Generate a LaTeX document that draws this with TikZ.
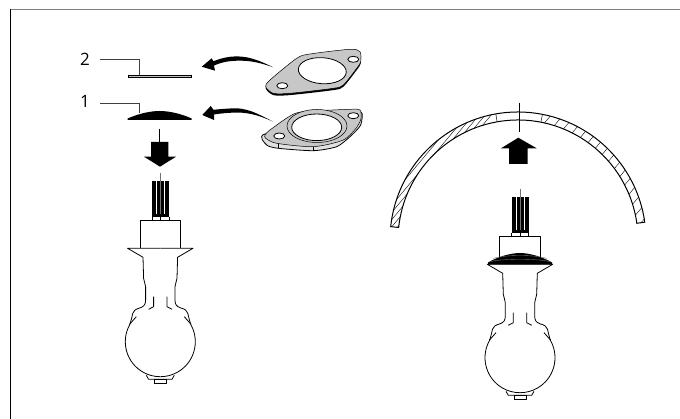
\documentclass[tikz,border=0pt]{standalone}
\usepackage{fontspec}
\setmainfont{Open Sans}
\tikzset{
  frameline/.style = {line width = 1pt},
  leader/.style = {line width = 0.6pt, black!75},
  numlabel/.style = {font = \fontsize{17}{20}\selectfont, inner sep = 0pt},
  outline/.style = {line width = 0.8pt, line join = round},
  gasket/.style = {fill = black!22, line width = 0.5pt},
  dome/.pic = {
    \fill (-32,0) -- (-32,-1.5) .. controls (-22,-6) and (-10,-9) .. (0,-9)
      .. controls (10,-9) and (22,-6) .. (32,-1.5) -- (32,0) -- cycle;
  },
  bulb/.pic = {
    \draw[line width = 0.7pt, black!55] (0,-75) -- (0,-67.6);
    \fill (-8.5,-67.6) rectangle (8.5,-31.6);
    \foreach \gap in {-4,4}
      \draw[white, line width = 0.4pt] (\gap,-67) -- (\gap,-34);
    \draw[black!55, line width = 0.4pt] (0,-67) -- (0,-34);
    \draw[line width = 0.6pt] (-8.5,-31.6) -- (-8.5,-27.6) (0,-31.6) -- (0,-27.6) (8.5,-31.6) -- (8.5,-27.6);
    \draw[outline] (-20.3,0) -- (-20.3,-27.6) -- (20.3,-27.6) -- (20.3,0);
    \foreach \side in {1,-1} {
      \begin{scope}[xscale = \side]
        \draw[outline, fill = white] (0,0) -- (-32.7,0) -- (-17.3,9) -- (-16.7,30)
          .. controls (-16.7,33) and (-14.7,35) .. (-14.7,38.4) -- (-14.7,51.7)
          .. controls (-14.7,56) and (-16,58) .. (-20,59.5)
          .. controls (-25,61) and (-26.5,62) .. (-27.5,65)
          .. controls (-28.5,69) and (-29,72) .. (-30.7,76.6)
          arc[start angle = 208.7, end angle = 90, radius = 35];
        \draw[outline] (-6.7,48.4) -- (-6.7,58.4) -- (-11.7,61);
        \draw[outline] (-24,68.4) -- (-30.7,76);
        \draw[outline] (-14,127) -- (-11.7,131) -- (0,131);
      \end{scope}
    }
    \draw[outline] (-6,131) rectangle (6,135.2);
    \draw[line width = 1.4pt] (-6,135.2) -- (6,135.2);
  }
}
\begin{document}
\begin{tikzpicture}[x = 1pt, y = -1pt]
\useasboundingbox (0,0) rectangle (680,419);
% frame
\draw[frameline, black!50] (10,9.5) -- (680,9.5);
\draw[frameline] (10.5,9.5) -- (10.5,419);

% parts on the left
\node[numlabel] (two) at (85,59.3) {2};
\node[numlabel] (one) at (85,101) {1};
\coordinate (platetop) at (139.3,75);
\coordinate (dometop) at (139.3,113);
\draw[leader] ([xshift = 10pt]two.east) -| (platetop);
\draw[leader] ([xshift = 10pt, yshift = -2.7pt]one.east) -| (dometop);
\draw[line width = 0.8pt, fill = black!25] (128.3,75) rectangle (191,77.7);
\pic at (159.7,120) {dome};

% gasket 2
\fill[yshift = -1.8pt] plot[smooth cycle, tension = 0.45] coordinates {(265.7,86.7) (270,80) (296.7,58.3) (310,54) (350,49.3) (360,51.7) (360.7,61.7) (356.7,68.3) (343.3,85) (333.3,88.3) (290,93.3) (273.3,93.3)};
\draw[gasket] plot[smooth cycle, tension = 0.45] coordinates {(265.7,86.7) (270,80) (296.7,58.3) (310,54) (350,49.3) (360,51.7) (360.7,61.7) (356.7,68.3) (343.3,85) (333.3,88.3) (290,93.3) (273.3,93.3)};
\draw[outline, fill = white, rotate around = {-4:(322.3,70.7)}] (322.3,70.7) ellipse [x radius = 24, y radius = 13];
\draw[outline, fill = white] (282.3,85.7) ellipse [x radius = 5.5, y radius = 3];
\draw[outline, fill = white] (353.3,59.3) ellipse [x radius = 5.5, y radius = 3];

% gasket 1
\draw[outline, fill = black!12] plot[smooth cycle, tension = 0.4] coordinates {(265,134) (266.7,145) (278.3,148.3) (313.3,150.7) (336.7,146.7) (350,136.7) (360.7,125) (361,112) (340,125)};
\draw[outline] (278.3,143) -- (278.3,148.3) (313.3,147) -- (313.3,150.7);
\draw[gasket] plot[smooth cycle, tension = 0.45] coordinates {(265,135) (270,130) (290,116) (303.3,111.7) (350,109.3) (360,110) (361,118.3) (357,127) (343.3,140) (313.3,146.7) (276.7,143.3) (265.7,138.3)};
\draw[line width = 0.5pt, fill = black!22] (317,126) ellipse [x radius = 30, y radius = 16.5];
\draw[outline, fill = white] (316.7,127.3) ellipse [x radius = 25, y radius = 13.3];
\draw[outline, fill = white] (279.3,136) ellipse [x radius = 5.5, y radius = 3];
\draw[outline, fill = white] (353.3,115.7) ellipse [x radius = 5.5, y radius = 3];

% curved arrows
\fill (273.3,67.3) .. controls (258,60) and (247,55) .. (230,56.8) .. controls (224,57.5) and (218,59.5) .. (213.3,61.2) -- (211.7,58.3) -- (201.7,66.7) -- (215,70.7) -- (214,65.5) .. controls (220,63) and (225,61.7) .. (230,61.2) .. controls (247,59.5) and (258,62) .. cycle;
\fill (273.3,121.7) .. controls (258,114) and (247,107) .. (230,108.5) .. controls (224,108.8) and (218,109.3) .. (213.5,109.8) -- (210.7,106) -- (202.3,115) -- (214,120) -- (214,114.5) .. controls (220,113.5) and (225,113.1) .. (230,112.8) .. controls (247,111.5) and (258,115) .. cycle;

% down arrow and left bulb
\draw[line width = 0.5pt] (159.5,129) -- (159.5,142);
\fill (151,142) -- (168.3,142) -- (168.3,156.7) -- (176,156.7) -- (160,166.7) -- (144,156.7) -- (151,156.7) -- cycle;
\pic at (160.3,248.3) {bulb};

% shell on the right
\begin{scope}
  \clip ([shift = {(186:128)}]518,240) arc[start angle = 186, end angle = 260, radius = 128] -- ([shift = {(260:120)}]518,240) arc[start angle = 260, end angle = 186, radius = 120] -- cycle
        ([shift = {(281:128)}]518,240) arc[start angle = 281, end angle = 352, radius = 128] -- ([shift = {(352:120)}]518,240) arc[start angle = 352, end angle = 281, radius = 120] -- cycle;
  \foreach \hatch in {338,346,352,358,364,370}
    \draw[line width = 0.4pt] (\hatch,260) -- ++(122,-146);
  \foreach \hatch in {430,442,...,610}
    \draw[line width = 0.4pt] (\hatch,260) -- ++(122,-146);
\end{scope}
\draw[line width = 1pt] ([shift = {(186:128)}]518,240) arc[start angle = 186, end angle = 352, radius = 128] -- ([shift = {(352:120)}]518,240) arc[start angle = 352, end angle = 186, radius = 120] -- cycle;
\draw[line width = 0.5pt] ([shift = {(260:120)}]518,240) -- ([shift = {(260:128)}]518,240);
\draw[line width = 0.5pt] ([shift = {(281:120)}]518,240) -- ([shift = {(281:128)}]518,240);
\draw[line width = 0.5pt] (519.3,102.7) -- (519.3,131.7);

% up arrow and right bulb
\fill (509,164) -- (527.7,164) -- (527.7,148.3) -- (536.7,148.3) -- (518.3,137.7) -- (501,148.3) -- (509,148.3) -- cycle;
\pic at (520,264.3) {bulb};
\pic[yscale = 1.25] at (520,264.3) {dome};
\draw[black!55, line width = 0.4pt] (493,258.5) .. controls (505,254.5) and (535,254.5) .. (547,258.5);
\draw[black!55, line width = 0.4pt] (490,261.5) .. controls (505,258.5) and (535,258.5) .. (550,261.5);
\end{tikzpicture}
\end{document}
